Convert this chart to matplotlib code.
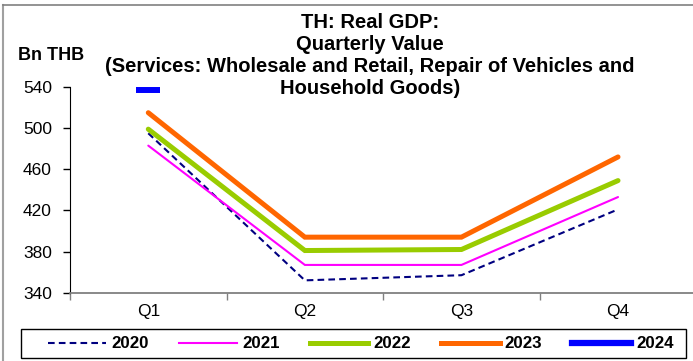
import matplotlib
matplotlib.use("Agg")
import matplotlib.pyplot as plt
from matplotlib.lines import Line2D
from matplotlib.patches import Rectangle
import numpy as np

plt.rcParams['font.family'] = ['Liberation Sans', 'DejaVu Sans']

quarters = ["Q1", "Q2", "Q3", "Q4"]
years = ["2020", "2021", "2022", "2023", "2024"]
v2020 = [495, 352, 357, 421]
v2021 = [483, 367, 367, 433]
v2022 = [499, 381, 382, 449]
v2023 = [515, 394, 394, 472]
v2024 = [537]
yticks = [340, 380, 420, 460, 500, 540]
title_lines = ["TH: Real GDP:", "Quarterly Value",
               "(Services: Wholesale and Retail, Repair of Vehicles and",
               "Household Goods)"]

series = [v2020, v2021, v2022, v2023, v2024]
colors = ["#000080", "#FF00FF", "#99CC00", "#FF6600", "#0000FF"]
widths = [1.5, 1.5, 3.6, 3.6, 4.5]
styles = [(0, (3.2, 2)), "-", "-", "-", "-"]

W, H = 693, 361
fig = plt.figure(figsize=(W / 100, H / 100), dpi=100)
ax = fig.add_axes([70 / W, 1 - 292.7 / H, (696.3 - 70) / W, (292.7 - 87) / H])

x = np.arange(len(quarters))
for vals, c, lw, ls, lab in zip(series[:4], colors[:4], widths[:4], styles[:4], years[:4]):
    ax.plot(x[:len(vals)], vals, color=c, lw=lw, ls=ls, label=lab,
            solid_capstyle='round', dash_capstyle='butt', solid_joinstyle='miter', clip_on=False)
ax.plot(x[:len(v2024)], v2024, color=colors[4], lw=widths[4], ls='-', marker='_',
        markersize=17, markeredgewidth=4.3, label=years[4], clip_on=False)

ax.set_xlim(-0.5, 3.5)
ax.set_ylim(340, 540)
ax.set_yticks(yticks)
ax.set_yticklabels([str(v) for v in yticks], fontsize=12.5)
ax.set_xticks([-0.5, 0.5, 1.5, 2.5, 3.5])
ax.set_xticklabels([])
ax.set_xticks(x, minor=True)
ax.set_xticklabels(quarters, minor=True, fontsize=12.5)
ax.tick_params(axis='x', which='minor', length=0, pad=8)
ax.tick_params(axis='x', which='major', length=5, width=1, color='#808080', direction='out')
ax.tick_params(axis='y', length=5, width=1, color='black', direction='out', pad=8)
for s in ['top', 'right']:
    ax.spines[s].set_visible(False)
ax.spines['left'].set_color('black')
ax.spines['bottom'].set_color('#808080')
ax.spines['bottom'].set_linewidth(1.3)

for line, base in zip(title_lines, [28, 50, 72, 94]):
    fig.text(370 / W, 1 - base / H, line, ha='center', va='baseline',
             fontsize=14.5, fontweight='bold')
fig.text(51.5 / W, 1 - 55 / H, "Bn THB", ha='center', va='center', fontsize=13, fontweight='bold')

handles = [Line2D([0], [0], color=c, lw=lw, ls=ls) for c, lw, ls in zip(colors, widths, styles)]
leg = fig.legend(handles, years, loc='center', bbox_to_anchor=(360.5 / W, 1 - 344 / H),
                 ncol=5, frameon=False,
                 prop={'weight': 'bold', 'size': 12.2}, handlelength=3.45, handletextpad=0.3,
                 columnspacing=1.78, borderpad=0, borderaxespad=0)
fig.add_artist(Rectangle((21 / W, 1 - 358 / H), (686 - 21) / W, 29 / H, transform=fig.transFigure,
                         fill=False, edgecolor='black', lw=1.0))

fig.add_artist(Line2D([3 / W, 3 / W], [0, 1 - 4.5 / H], color='#A0A0A0', lw=1.5, transform=fig.transFigure))
fig.add_artist(Line2D([3 / W, 1], [1 - 4.5 / H, 1 - 4.5 / H], color='#808080', lw=1.2, transform=fig.transFigure))

fig.savefig("out.png", dpi=100)
